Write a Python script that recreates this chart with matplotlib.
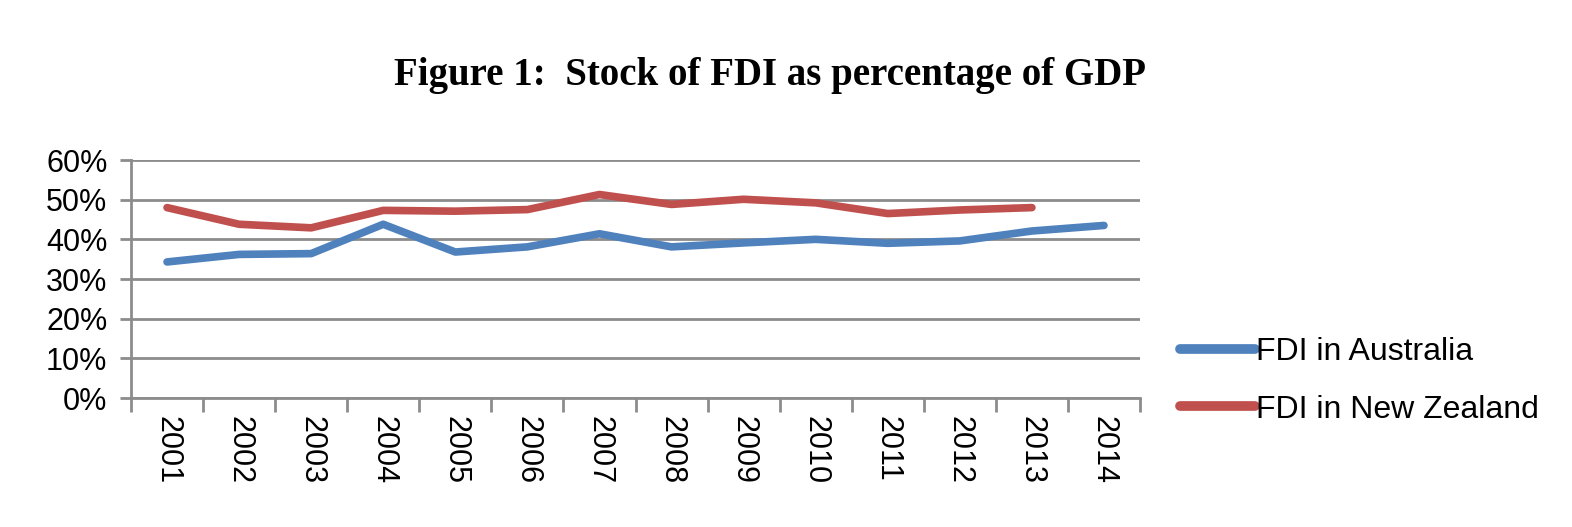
import matplotlib
matplotlib.use("Agg")
import matplotlib.pyplot as plt
from matplotlib.ticker import FixedLocator, PercentFormatter

years = ["2001", "2002", "2003", "2004", "2005", "2006", "2007",
         "2008", "2009", "2010", "2011", "2012", "2013", "2014"]
australia = [34.3, 36.2, 36.4, 43.8, 36.8, 38.1, 41.4, 38.1, 39.1, 40.0, 39.0, 39.6, 42.1, 43.5]
new_zealand = [48.0, 43.8, 42.9, 47.3, 47.1, 47.5, 51.3, 48.8, 50.1, 49.2, 46.5, 47.4, 48.0]

title = "Figure 1:  Stock of FDI as percentage of GDP"
series_names = ["FDI in Australia", "FDI in New Zealand"]
blue = "#4F81BD"
red = "#C0504D"
grid_col = "#8c8c8c"

fig = plt.figure(figsize=(15.72, 5.27), dpi=100)
ax = fig.add_axes([131/1572, 1-398/527, (1140-131)/1572, (398-160)/527])

x_a = list(range(len(australia)))
x_n = list(range(len(new_zealand)))
la, = ax.plot(x_a, australia, color=blue, lw=5.5, solid_joinstyle="round", solid_capstyle="round", zorder=3)
ln, = ax.plot(x_n, new_zealand, color=red, lw=5.5, solid_joinstyle="round", solid_capstyle="round", zorder=3)

ax.set_xlim(-0.5, len(years) - 0.5)
ax.set_ylim(0, 60)
ax.yaxis.set_major_locator(FixedLocator([0, 10, 20, 30, 40, 50, 60]))
ax.yaxis.set_major_formatter(PercentFormatter(decimals=0))
ax.grid(axis="y", color=grid_col, lw=2, zorder=0)
ax.set_axisbelow(True)

ax.xaxis.set_major_locator(FixedLocator([i - 0.5 for i in range(len(years) + 1)]))
ax.xaxis.set_major_formatter(plt.NullFormatter())
ax.xaxis.set_minor_locator(FixedLocator(list(range(len(years)))))
ax.set_xticklabels(years, minor=True)
ax.tick_params(axis="x", which="major", length=10, width=2, color=grid_col, direction="out")
ax.tick_params(axis="x", which="minor", length=0, pad=13, labelsize=22, labelrotation=270)
ax.tick_params(axis="y", length=8, width=2, color=grid_col, direction="out", pad=9, labelsize=22)
for lab in ax.get_xticklabels(minor=True) + ax.get_yticklabels():
    lab.set_fontfamily("Liberation Sans")

for s in ["top", "right"]:
    ax.spines[s].set_visible(False)
for s in ["left", "bottom"]:
    ax.spines[s].set_color(grid_col)
    ax.spines[s].set_linewidth(2)

fig.text(770/1572, 1-75/527, title, ha="center", va="center",
         fontfamily="Liberation Serif", fontweight="bold", fontsize=28)

leg = fig.legend([la, ln], series_names, loc="center left",
                 bbox_to_anchor=(1151/1572, 1-381/527), frameon=False,
                 prop={"family": "Liberation Sans", "size": 23},
                 handlelength=2.35, handletextpad=0.05, labelspacing=0.85)
for h in leg.get_lines():
    h.set_linewidth(7)

fig.savefig("out.png", dpi=100)
